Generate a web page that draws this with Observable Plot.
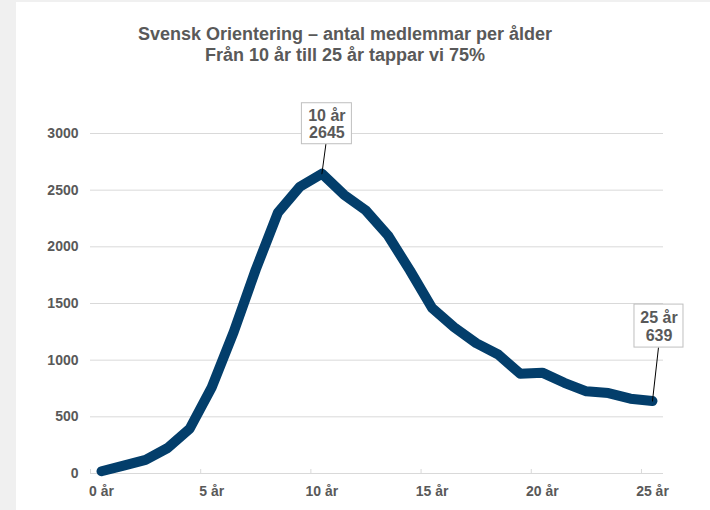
<!DOCTYPE html>
<html><head><meta charset="utf-8">
<script src="https://cdn.jsdelivr.net/npm/d3@7"></script>
<script src="https://cdn.jsdelivr.net/npm/@observablehq/plot@0.6"></script>
<style>
html,body{margin:0;padding:0;background:#f0f0f0;width:710px;height:510px;overflow:hidden;}
#card{position:absolute;left:16px;top:2px;width:694px;height:508px;background:#fff;font-family:"Liberation Sans",Arial,sans-serif;}
#title{padding-top:22px;padding-right:36px;margin:0;text-align:center;font-size:18px;line-height:21px;font-weight:bold;color:#595959;height:42px;}
#chart svg{display:block;}
</style></head>
<body>
<div id="card">
<div id="title">Svensk Orientering – antal medlemmar per ålder<br>Från 10 år till 25 år tappar vi 75%</div>
<div id="chart"></div>
</div>
<script>
const ages = [0,1,2,3,4,5,6,7,8,9,10,11,12,13,14,15,16,17,18,19,20,21,22,23,24,25];
const members = [20,70,120,225,395,760,1250,1800,2300,2530,2645,2460,2320,2100,1790,1460,1290,1150,1050,880,890,800,725,710,660,639];
const xTickLabels = [0,5,10,15,20,25];
const yTicks = [0,500,1000,1500,2000,2500,3000];
const annotAges = [10,25];

const data = ages.map((a,i)=>({age:a, value:members[i]}));
const peak = data.filter(d=>d.age===annotAges[0]);
const last = data.filter(d=>d.age===annotAges[1]);
const label = d => `${d.age} år\n${d.value}`;
const leader = {draw(ctx, l){ctx.moveTo(0,0); ctx.lineTo(0,-l);}};
const font = "Liberation Sans, Arial, sans-serif";
const txt = "#595959";
const grid = "#d9d9d9";

const chart = Plot.plot({
  width: 694, height: 444,
  marginLeft: 74, marginRight: 47, marginTop: 67, marginBottom: 37,
  style: {fontFamily: font, fontSize: "14px", color: txt, background: "transparent"},
  x: {domain: [-0.5, 25.5]},
  y: {domain: [0, 3000]},
  marks: [
    Plot.gridY(yTicks, {stroke: grid, strokeOpacity: 1}),
    Plot.ruleY([0], {stroke: grid}),
    Plot.axisX(xTickLabels.map(d=>d-0.5), {tickSize: 4, dy: -4, stroke: grid, tickFormat: () => "", label: null}),
    Plot.line(data, {x:"age", y:"value", stroke:"#033e6b", strokeWidth:10, strokeLinecap:"round", strokeLinejoin:"round"}),
    Plot.vector(peak, {x:"age", y:"value", length: 29.7, rotate: 7.7, anchor:"start", shape: leader, stroke:"#000", strokeWidth:1}),
    Plot.vector(last, {x:"age", y:"value", length: 53.6, rotate: 6.4, anchor:"start", shape: leader, stroke:"#000", strokeWidth:1}),
    Plot.rect(peak, {x1:"age", x2:"age", y1:"value", y2:"value", insetLeft:-25, insetRight:-25, insetTop:-20.5, insetBottom:-20.5, dx:5, dy:-50, fill:"white", stroke:"#bfbfbf"}),
    Plot.rect(last, {x1:"age", x2:"age", y1:"value", y2:"value", insetLeft:-24.5, insetRight:-24.5, insetTop:-21.5, insetBottom:-21.5, dx:6.5, dy:-75, fill:"white", stroke:"#bfbfbf"}),
    Plot.text(peak, {x:"age", y:"value", text: label, dx:5, dy:-50, fontSize:16, fontWeight:"bold", fill: txt, lineHeight:1.1}),
    Plot.text(last, {x:"age", y:"value", text: label, dx:6.5, dy:-75, fontSize:16, fontWeight:"bold", fill: txt, lineHeight:1.1}),
    Plot.axisY(yTicks, {tickSize:0, tickPadding:12, tickFormat: d => String(d), fontSize:14, fontWeight:"bold", label:null}),
    Plot.axisX(xTickLabels, {tickSize:0, tickPadding:13, tickFormat: d => `${d} år`, fontSize:14, fontWeight:"bold", label:null})
  ]
});
document.getElementById("chart").appendChild(chart);
</script>
</body></html>
